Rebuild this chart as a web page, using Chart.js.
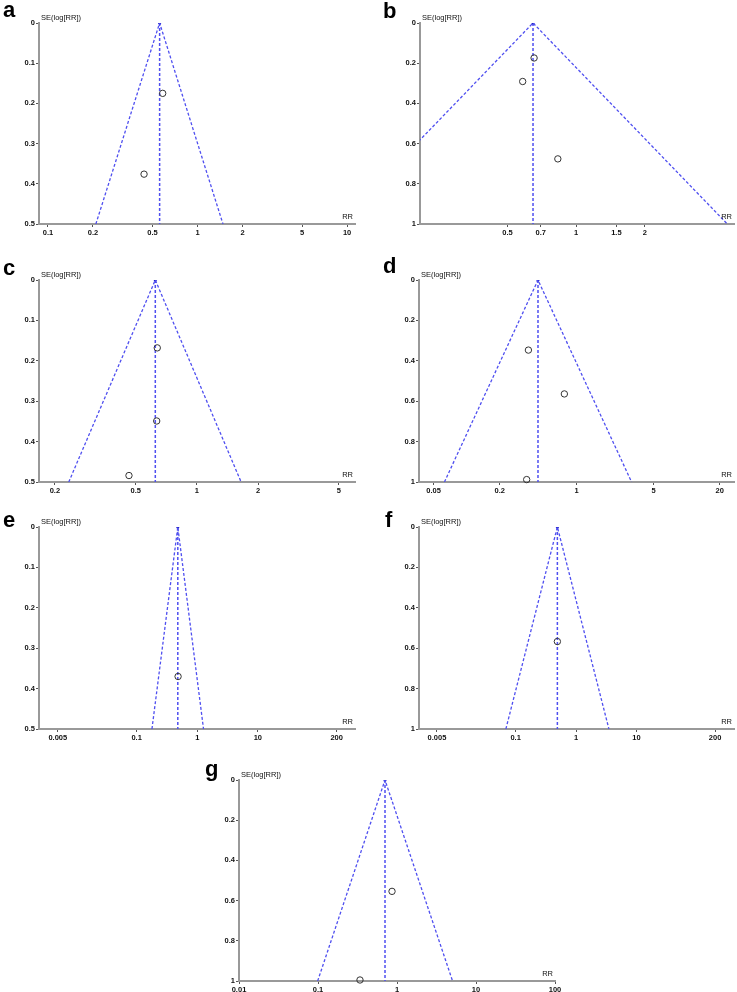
<!DOCTYPE html>
<html>
<head>
<meta charset="utf-8">
<script src="https://cdn.jsdelivr.net/npm/chart.js@4"></script>
<style>
  body { margin: 0; width: 737px; height: 992px; background: #fff; overflow: hidden; position: relative; }
  canvas { position: absolute; }
  .letter { position: absolute; font: bold 22px "Liberation Sans", Arial, sans-serif; line-height: 21px; color: #000; z-index: 2; }
</style>
</head>
<body>
<script>
// Funnel plots a-g: pooled RR, 95% pseudo-limits at the largest SE, and the single studies
const panelLetters = ['a', 'b', 'c', 'd', 'e', 'f', 'g'];
const pooledRR = [0.558, 0.647, 0.624, 0.445, 0.478, 0.491, 0.705];
const funnelLowRR = [0.209, 0.0912, 0.234, 0.0627, 0.179, 0.069, 0.099];
const funnelHighRR = [1.48, 4.59, 1.65, 3.16, 1.27, 3.5, 5.05];
const maxSE = [0.5, 1, 0.5, 1, 0.5, 1, 1];
const seStep = [0.1, 0.2, 0.1, 0.2, 0.1, 0.2, 0.2];
const studyRR = [[0.585, 0.439], [0.654, 0.583, 0.831], [0.638, 0.634, 0.463], [0.364, 0.773, 0.351], [0.483], [0.491], [0.865, 0.340]];
const studySE = [[0.175, 0.376], [0.174, 0.291, 0.676], [0.168, 0.349, 0.484], [0.347, 0.564, 0.988], [0.370], [0.567], [0.554, 0.995]];
const xTicks = [
    [0.1, 0.2, 0.5, 1, 2, 5, 10],
    [0.5, 0.7, 1, 1.5, 2],
    [0.2, 0.5, 1, 2, 5],
    [0.05, 0.2, 1, 5, 20],
    [0.005, 0.1, 1, 10, 200],
    [0.005, 0.1, 1, 10, 200],
    [0.01, 0.1, 1, 10, 100]
];
const xMin = [0.0871, 0.207, 0.167, 0.0368, 0.00245, 0.00252, 0.01];
const xMax = [11.3, 4.91, 6.0, 27, 401, 411, 100];

// layout: plot area [left, top, right, bottom] in page pixels, and letter spot
const plotBoxes = [
    [39, 23, 355, 224], [420, 23, 734, 224],
    [39, 280, 355, 482], [419, 280, 734, 482],
    [39, 527, 355, 729], [419, 527, 734, 729],
    [239, 780, 555, 981]
];
const letterSpots = [[3, -1], [383, 0], [3, 257], [383, 255], [3, 509], [385, 509], [205, 758]];

const Y_W = 30, X_H = 14, PAD_T = 12, PAD_R = 10;
const lineBlue = '#4f4ff0';
const axisFont = { family: '"Liberation Sans", Arial, sans-serif', size: 7.5, weight: 'bold' };

// axis titles drawn next to the plot area
const axisTitles = {
    id: 'axisTitles',
    afterDraw(chart) {
        const { ctx, chartArea: a } = chart;
        ctx.save();
        ctx.font = '7.5px "Liberation Sans", Arial, sans-serif';
        ctx.fillStyle = '#111';
        ctx.textBaseline = 'bottom';
        ctx.textAlign = 'left';
        ctx.fillText('SE(log[RR])', a.left + 2, a.top - 1);
        ctx.textAlign = 'right';
        ctx.fillText('RR', a.right - 2, a.bottom - 3);
        ctx.restore();
    }
};

panelLetters.forEach((letter, i) => {
    const [l, t, r, b] = plotBoxes[i];
    const canvas = document.createElement('canvas');
    canvas.width = (r - l) + Y_W + PAD_R;
    canvas.height = (b - t) + PAD_T + X_H;
    canvas.style.left = (l - Y_W) + 'px';
    canvas.style.top = (t - PAD_T) + 'px';
    document.body.appendChild(canvas);

    const tag = document.createElement('div');
    tag.className = 'letter';
    tag.textContent = letter;
    tag.style.left = letterSpots[i][0] + 'px';
    tag.style.top = letterSpots[i][1] + 'px';
    document.body.appendChild(tag);

    const studies = studyRR[i].map((v, k) => ({ x: v, y: studySE[i][k] }));

    new Chart(canvas.getContext('2d'), {
        type: 'scatter',
        data: {
            datasets: [
                {
                    data: studies,
                    pointStyle: 'circle',
                    pointRadius: 3.2,
                    pointBorderColor: '#333',
                    pointBackgroundColor: 'rgba(255,255,255,0)',
                    pointBorderWidth: 1,
                    clip: false,
                    order: 0
                },
                {
                    data: [{ x: funnelLowRR[i], y: maxSE[i] }, { x: pooledRR[i], y: 0 }, { x: funnelHighRR[i], y: maxSE[i] }],
                    showLine: true,
                    borderColor: lineBlue,
                    borderWidth: 1.3,
                    borderDash: [3, 2],
                    pointRadius: 0,
                    clip: 0,
                    order: 1
                },
                {
                    data: [{ x: pooledRR[i], y: 0 }, { x: pooledRR[i], y: maxSE[i] }],
                    showLine: true,
                    borderColor: lineBlue,
                    borderWidth: 1.5,
                    borderDash: [3, 2],
                    pointRadius: [1.6, 0],
                    pointBackgroundColor: '#2020c8',
                    pointBorderWidth: 0,
                    clip: 0,
                    order: 1
                }
            ]
        },
        options: {
            responsive: false,
            animation: false,
            events: [],
            layout: { padding: { top: PAD_T, right: PAD_R, left: 0, bottom: 0 } },
            plugins: { legend: { display: false }, tooltip: { enabled: false } },
            scales: {
                x: {
                    type: 'logarithmic',
                    min: xMin[i],
                    max: xMax[i],
                    afterBuildTicks: sc => { sc.ticks = xTicks[i].map(v => ({ value: v })); },
                    afterFit: sc => { sc.height = X_H; },
                    grid: { display: true, drawOnChartArea: false, drawTicks: true, tickLength: 3, color: '#555' },
                    border: { display: true, color: '#999', width: 2 },
                    ticks: {
                        autoSkip: false, maxRotation: 0, padding: 1,
                        color: '#111', font: axisFont,
                        callback: v => String(v)
                    }
                },
                y: {
                    type: 'linear',
                    reverse: true,
                    min: 0,
                    max: maxSE[i],
                    afterFit: sc => { sc.width = Y_W; },
                    grid: { display: true, drawOnChartArea: false, drawTicks: true, tickLength: 3, color: '#555' },
                    border: { display: true, color: '#999', width: 2 },
                    ticks: {
                        stepSize: seStep[i], padding: 1,
                        color: '#111', font: axisFont,
                        callback: v => String(Number(v.toFixed(2)))
                    }
                }
            }
        },
        plugins: [axisTitles]
    });
});
</script>
</body>
</html>
